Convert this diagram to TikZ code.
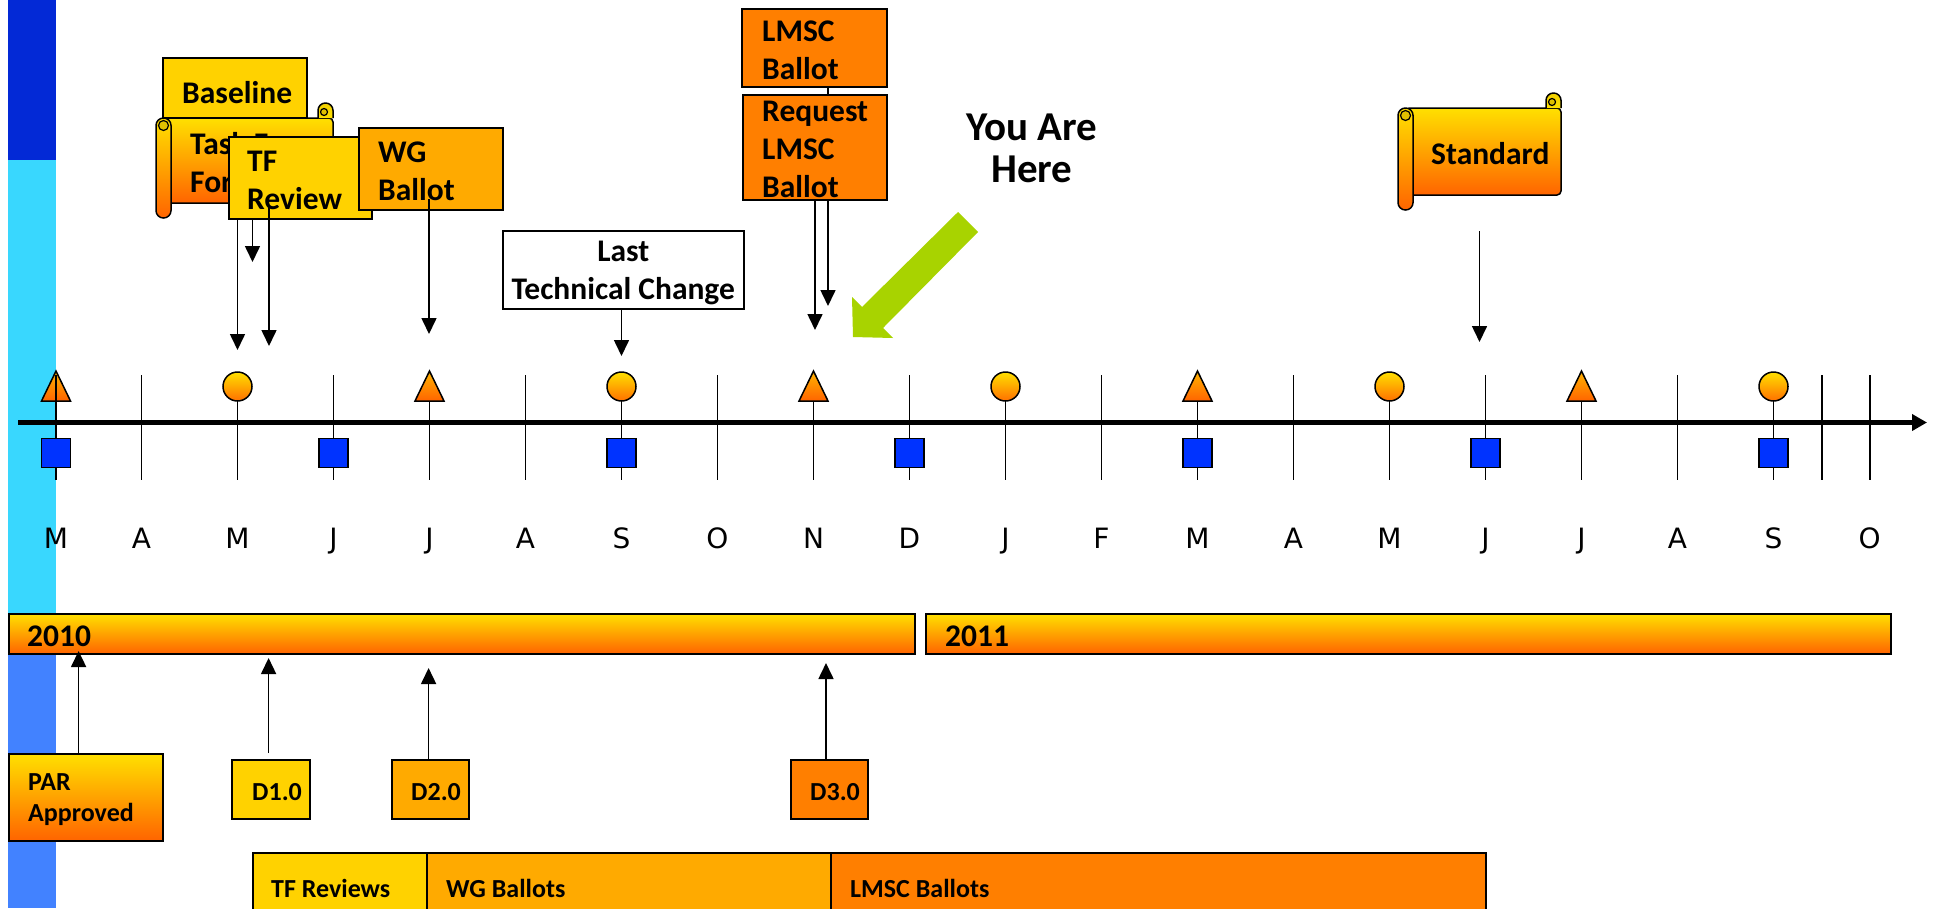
\documentclass[tikz,border=0pt]{standalone}
\usepackage{fontspec}
\setmainfont{Carlito}
\newfontfamily\monthfont{DejaVu Sans}
\usetikzlibrary{arrows.meta,calc}
\definecolor{stripDark}{HTML}{0329D6}
\definecolor{stripCyan}{HTML}{39D7FE}
\definecolor{stripBlue}{HTML}{4282FF}
\definecolor{yel}{HTML}{FFD200}
\definecolor{amb}{HTML}{FFAA00}
\definecolor{org}{HTML}{FF7F00}
\definecolor{gtop}{HTML}{FFE000}
\definecolor{gbot}{HTML}{FF6400}
\definecolor{ttop}{HTML}{FFB400}
\definecolor{tbot}{HTML}{FF6400}
\definecolor{ctop}{HTML}{FFE000}
\definecolor{cbot}{HTML}{FF7000}
\definecolor{sqblue}{HTML}{0033FF}
\definecolor{lime}{HTML}{A8D300}
\definecolor{curl}{HTML}{E0C000}
\definecolor{tabtop}{HTML}{F0D000}

\newcommand{\myscroll}[5]{%
  \pgfmathsetmacro\sxa{#2+7.5}%
  \pgfmathsetmacro\sxb{#2+15}%
  \pgfmathsetmacro\sya{#3+15}%
  \pgfmathsetmacro\syb{#5-15}%
  \pgfmathsetmacro\sxc{#4-15}%
  \pgfmathsetmacro\sxd{#4-7.5}%
  \pgfmathsetmacro\sw{#4-#2}%
  \pgfmathsetmacro\sh{#5-#3}%
  \node[inner sep=0pt, outer sep=0pt, minimum width=\sw pt, minimum height=\sh pt, anchor=north west] (#1) at (#2,#3) {};
  \path[draw, line width=1.5pt, top color=gtop, bottom color=gbot, rounded corners=4pt] (\sxa,\sya) rectangle (#4,\syb);
  \path[draw, line width=1.5pt, top color=tabtop, bottom color=gtop, rounded corners=7.4pt] (\sxc,\sya) -- (\sxc,#3) -- (#4,#3) -- (#4,\sya);
  \path[draw, line width=1.2pt, fill=curl] (\sxd-1.5,#3+9) circle (3.5);
  \path[draw, line width=1.5pt, top color=gtop, bottom color=gbot, rounded corners=7.4pt] (#2,\sya) rectangle (\sxb,#5);
  \path[draw, line width=1.2pt, fill=curl] (\sxa,\sya+7.5) circle (5);
}

\begin{document}
\begin{tikzpicture}[x=1pt,y=-1pt,
  box/.style={draw=black, line width=1.5pt, inner sep=0pt, anchor=north west},
  lbl/.style={font=\fontsize{31.5}{38}\selectfont\bfseries, align=left, inner sep=0pt, anchor=west, yshift=-2.5pt},
  slbl/.style={lbl, font=\fontsize{26}{31}\selectfont\bfseries},
  month/.style={font=\monthfont\fontsize{28}{32}\selectfont, anchor=base, inner sep=0pt},
  tickline/.style={line width=1.6pt},
  arr/.style={-{Triangle[length=16pt,width=15pt]}, line width=1.6pt}]
\useasboundingbox (0,0) rectangle (1937,908);
\fill[white] (0,0) rectangle (1937,908);

% left strip
\fill[stripDark] (8,0) rectangle (56,160);
\fill[stripCyan] (8,160) rectangle (56,632);
\fill[stripBlue] (8,632) rectangle (56,908);

% ticks
\foreach \x in {56,141.5,237.5,333.5,429.5,525.5,621.5,717.5,813.5,909.5,1005.5,1101.5,1197.5,1293.5,1389.5,1485.5,1581.5,1677.5,1773.5,1821.7,1869.7}
  \draw[tickline] (\x,375) -- (\x,480);
% axis
\draw[line width=5pt, -{Triangle[length=15pt,width=16pt]}] (18,422.5) -- (1927,422.5);

% markers
\foreach \x in {56,429.5,813.5,1197.5,1581.5}
  \path[draw, line width=1.5pt, top color=ttop, bottom color=tbot] (\x,371) -- (\x+14.5,401) -- (\x-14.5,401) -- cycle;
\draw[tickline] (56,375) -- (56,401);
\foreach \x [count=\i] in {237.5,621.5,1005.5,1389.5,1773.5}
  \node[circle, draw, line width=1.5pt, minimum size=29pt, inner sep=0pt, top color=ctop, bottom color=cbot] (circ\i) at (\x,386.5) {};
\foreach \x [count=\i] in {56,333.5,621.5,909.5,1197.5,1485.5,1773.5}
  \node[rectangle, draw, line width=1.5pt, minimum size=29pt, inner sep=0pt, fill=sqblue] (sq\i) at (\x,453) {};

% month labels
\foreach \x/\m [count=\i] in {56/M,141.5/A,237.5/M,333.5/J,429.5/J,525.5/A,621.5/S,717.5/O,813.5/N,909.5/D,1005.5/J,1101.5/F,1197.5/M,1293.5/A,1389.5/M,1485.5/J,1581.5/J,1677.5/A,1773.5/S,1869.7/O}
  \node[month] (mon\i) at (\x,548) {\m};

% arrow tip coordinates
\coordinate (tBase) at (237.5,350);
\coordinate (tTask) at (252.5,262);
\coordinate (tTFR) at (269,346);
\coordinate (tWG) at (429,334);
\coordinate (tLast) at (621.5,356);
\coordinate (tLMSC) at (828,306);
\coordinate (tReq) at (815,330);
\coordinate (tStd) at (1479.5,342);
\coordinate (tPAR) at (78.6,651);
\coordinate (tD1) at (268.6,658);
\coordinate (tD2) at (428.6,668);
\coordinate (tD3) at (826,663);

% top-left group
\node[box, fill=yel, minimum width=144pt, minimum height=60pt] (baseline) at (162,57) {};
\node[lbl, yshift=-2.5pt] (baselineT) at ([xshift=20pt]baseline.west) {Baseline};
\draw[arr] (baseline.south -| tBase) -- (tBase);
\myscroll{taskforce}{156}{103}{333}{218}
\node[lbl] (taskforceT) at ([xshift=34pt]taskforce.west) {Task Force\\Formation};
\draw[arr] (taskforce.south -| tTask) -- (tTask);
\node[box, fill=yel, minimum width=143pt, minimum height=82pt] (tfreview) at (228,136) {};
\node[lbl] (tfreviewT) at ([xshift=19pt]tfreview.west) {TF\\Review};
\draw[arr] ($(tfreview.south -| tTFR)+(0,-13)$) -- (tTFR);
\node[box, fill=amb, minimum width=144pt, minimum height=82pt] (wgballot) at (358,127) {};
\node[lbl] (wgballotT) at ([xshift=20pt]wgballot.west) {WG\\Ballot};
\draw[arr] ($(wgballot.south -| tWG)+(0,-12)$) -- (tWG);

% last technical change
\node[box, fill=white, minimum width=241pt, minimum height=78pt] (last) at (502,230) {};
\node[lbl, anchor=center, align=center, yshift=-1pt] (lastT) at (last.center) {Last\\Technical Change};
\draw[arr] (last.south -| tLast) -- (tLast);

% LMSC group
\node[box, fill=org, minimum width=145pt, minimum height=78pt] (lmsc) at (741,8) {};
\node[lbl] (lmscT) at ([xshift=21pt]lmsc.west) {LMSC\\Ballot};
\draw[arr] (lmsc.south -| tLMSC) -- (tLMSC);
\node[box, fill=org, minimum width=144pt, minimum height=105pt] (request) at (742,94) {};
\node[lbl] (requestT) at ([xshift=20pt]request.west) {Request\\LMSC\\Ballot};
\draw[arr] (request.south -| tReq) -- (tReq);

% you are here
\node[font=\fontsize{41}{42}\selectfont\bfseries, align=center, inner sep=0pt] (here) at (1032,148) {You Are\\Here};
\fill[lime] (958,212) -- (862,307) -- (852,297) -- (853,337) -- (893,338) -- (883,328) -- (978,232) -- cycle;

% standard
\myscroll{standard}{1398}{93}{1561}{210}
\node[lbl] (standardT) at ([xshift=33pt]standard.west) {Standard};
\draw[arr] ($(standard.south -| tStd)+(0,21)$) -- (tStd);

% year bars
\node[box, top color=gtop, bottom color=gbot, minimum width=906pt, minimum height=40pt] (y2010) at (8,613) {};
\node[lbl] (y2010T) at ([xshift=19pt]y2010.west) {2010};
\node[box, top color=gtop, bottom color=gbot, minimum width=965pt, minimum height=40pt] (y2011) at (925,613) {};
\node[lbl] (y2011T) at ([xshift=20pt]y2011.west) {2011};

% bottom milestones
\node[box, top color=gtop, bottom color=gbot, minimum width=154pt, minimum height=87pt] (par) at (8,753) {};
\node[slbl] (parT) at ([xshift=20pt]par.west) {PAR\\Approved};
\draw[arr] (par.north -| tPAR) -- (tPAR);
\node[box, fill=yel, minimum width=78pt, minimum height=59pt] (d1) at (231,759) {};
\node[slbl] (d1T) at ([xshift=21pt]d1.west) {D1.0};
\draw[arr] ($(d1.north -| tD1)+(0,-6)$) -- (tD1);
\node[box, fill=amb, minimum width=77pt, minimum height=59pt] (d2) at (391,759) {};
\node[slbl] (d2T) at ([xshift=20pt]d2.west) {D2.0};
\draw[arr] (d2.north -| tD2) -- (tD2);
\node[box, fill=org, minimum width=77pt, minimum height=59pt] (d3) at (790,759) {};
\node[slbl] (d3T) at ([xshift=20pt]d3.west) {D3.0};
\draw[arr] (d3.north -| tD3) -- (tD3);

% bottom phases
\node[box, fill=yel, minimum width=174pt, minimum height=66pt] (tfr) at (252,852) {};
\node[slbl] (tfrT) at ([xshift=19pt]tfr.west) {TF Reviews};
\node[box, fill=amb, minimum width=404pt, minimum height=66pt] (wgb) at (426,852) {};
\node[slbl] (wgbT) at ([xshift=20pt]wgb.west) {WG Ballots};
\node[box, fill=org, minimum width=655pt, minimum height=66pt] (lmb) at (830,852) {};
\node[slbl] (lmbT) at ([xshift=20pt]lmb.west) {LMSC Ballots};
\end{tikzpicture}
\end{document}
